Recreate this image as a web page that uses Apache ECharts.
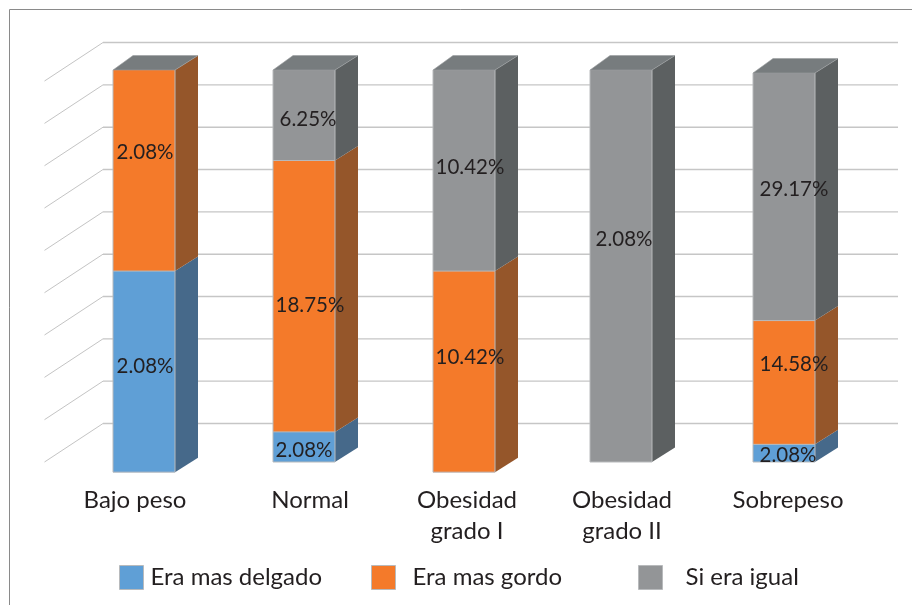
<!DOCTYPE html>
<html>
<head>
<meta charset="utf-8">
<style>html,body{margin:0;padding:0;background:#fff}#c{width:912px;height:605px}</style>
<script src="https://cdn.jsdelivr.net/npm/echarts@6/dist/echarts.min.js"></script>
</head>
<body>
<div id="c"></div>
<script>
// ---- data ----
const categories = ['Bajo peso', 'Normal', 'Obesidad\ngrado I', 'Obesidad\ngrado II', 'Sobrepeso'];
const eraMasDelgado = [2.08, 2.08, 0, 0, 2.08];
const eraMasGordo = [2.08, 18.75, 10.42, 0, 14.58];
const siEraIgual = [0, 6.25, 10.42, 2.08, 29.17];
// column extent on the (hidden) value axis
const columnBottom = [-2.4, 0, -2.4, 0, 0];
const columnTop = [92.6, 92.6, 92.6, 92.6, 91.9];
const gridTicks = [0, 10, 20, 30, 40, 50, 60, 70, 80, 90];
const seriesNames = ['Era mas delgado', 'Era mas gordo', 'Si era igual'];

// ---- layout / style ----
const FRONT = ['#5f9fd6', '#f47a2a', '#939597'];
const SIDE = ['#46698a', '#95562a', '#5c6061'];
const TOP_FACE = '#777c7e';
const EDGE = '#b8babc';
const BAR_W = 62, DEPTH_X = 23, DEPTH_Y = 14.5, TOP_INSET = 3;
const WALL_DX = 58.5, WALL_DY = 38.5, WALL_LEFT = 44.5, WALL_RIGHT = 898;
const FONT = 'Lato, "Open Sans", sans-serif';
// hand placement in the reference, in pixels
const columnShift = [0, 0, 0, -3, 0];
const labelNudge = [
  [[1, -5], [0, 3], null, null, [4, 2]],
  [[1, -18], [6, 9], [6, -14], null, [10, -18]],
  [null, [4, 4], [6, -3], [0, -27], [10, -7]]
];
const axisLabelShift = [-18, 12, 6, -4, 8];

const valueSets = [eraMasDelgado, eraMasGordo, siEraIgual];

function segments(s) {
  return categories.map(function (_, i) {
    const total = valueSets[0][i] + valueSets[1][i] + valueSets[2][i];
    const span = columnTop[i] - columnBottom[i];
    let below = 0;
    for (let k = 0; k < s; k++) below += valueSets[k][i];
    const v = valueSets[s][i];
    let above = 0;
    for (let k = s + 1; k < 3; k++) above += valueSets[k][i];
    return [i, columnBottom[i] + span * below / total, columnBottom[i] + span * (below + v) / total, v, above === 0 ? 1 : 0];
  }).filter(function (d) { return d[3] > 0; });
}

function renderSegment(s) {
  return function (params, api) {
    const i = api.value(0);
    const a = api.coord([i, api.value(1)]);
    const b = api.coord([i, api.value(2)]);
    const cx = a[0] + columnShift[i];
    const x0 = cx - BAR_W / 2, x1 = cx + BAR_W / 2;
    const yb = a[1], yt = b[1];
    const children = [
      { type: 'polygon', shape: { points: [[x1, yb], [x1 + DEPTH_X, yb - DEPTH_Y], [x1 + DEPTH_X, yt - DEPTH_Y], [x1, yt]] },
        style: { fill: SIDE[s] } },
      { type: 'rect', shape: { x: x0, y: yt, width: BAR_W, height: yb - yt },
        style: { fill: FRONT[s] } },
      { type: 'polyline', shape: { points: [[x0, yt], [x0, yb], [x1, yb], [x1, yt]] },
        style: { fill: null, stroke: EDGE, lineWidth: 1 } }
    ];
    if (api.value(4) === 1) {
      children.push({ type: 'polygon', shape: { points: [[x0, yt], [x0 + DEPTH_X - TOP_INSET, yt - DEPTH_Y], [x1 + DEPTH_X, yt - DEPTH_Y], [x1, yt]] },
        style: { fill: TOP_FACE, stroke: '#9a9ea0', lineWidth: 0.6 } });
    }
    const n = labelNudge[s][i] || [0, 0];
    children.push({ type: 'text', z2: 100,
      style: { x: a[0] + n[0], y: (yb + yt) / 2 + n[1], text: api.value(3).toFixed(2) + '%',
        font: '20.5px ' + FONT, fill: '#231f20', align: 'center', verticalAlign: 'middle' } });
    return { type: 'group', children: children };
  };
}

function renderWall(params, api) {
  const y = api.coord([0, api.value(0)])[1];
  return { type: 'group', children: [
    { type: 'line', shape: { x1: WALL_LEFT, y1: y, x2: WALL_LEFT + WALL_DX, y2: y - WALL_DY },
      style: { stroke: '#c4c4c4', lineWidth: 1 } },
    { type: 'line', shape: { x1: WALL_LEFT + WALL_DX, y1: y - WALL_DY, x2: WALL_RIGHT, y2: y - WALL_DY },
      style: { stroke: '#c6c6c6', lineWidth: 1.4 } }
  ] };
}

const rich = {};
axisLabelShift.forEach(function (p, i) {
  rich['c' + i] = { fontFamily: FONT, fontSize: 24, color: '#231f20', lineHeight: 31,
    padding: p < 0 ? [0, -p, 0, 0] : [0, 0, 0, p] };
});

function legendAt(name, left, gap) {
  return { data: [name], left: left, top: 565, padding: 0, itemWidth: 24, itemHeight: 24, icon: 'rect',
    selectedMode: false, itemStyle: { borderColor: EDGE, borderWidth: 1 },
    textStyle: { fontFamily: FONT, fontSize: 24, color: '#231f20', padding: [5, 0, 0, gap] } };
}

const chart = echarts.init(document.getElementById('c'), null, { renderer: 'canvas' });
chart.setOption({
  animation: false,
  backgroundColor: '#fff',
  grid: { left: 64, width: 800, top: 38.7, height: 423.3 },
  xAxis: { type: 'category', data: categories, axisLine: { show: false }, axisTick: { show: false }, splitLine: { show: false },
    axisLabel: { margin: 23, interval: 0,
      formatter: function (v, i) {
        return v.split('\n').map(function (l) { return '{c' + i + '|' + l + '}'; }).join('\n');
      }, rich: rich } },
  yAxis: { type: 'value', min: 0, max: 100, interval: 10, show: false },
  legend: [legendAt(seriesNames[0], 119, 2), legendAt(seriesNames[1], 371, 12), legendAt(seriesNames[2], 638, 18)],
  graphic: [{ type: 'polyline', silent: true, shape: { points: [[9.5, 605], [9.5, 9.5], [912, 9.5]] },
    style: { fill: null, stroke: '#8a8a8a', lineWidth: 1 } }],
  series: [
    { type: 'custom', name: 'walls', silent: true, z: 1, data: gridTicks.map(function (t) { return [t]; }),
      encode: { y: 0 }, renderItem: renderWall }
  ].concat(seriesNames.map(function (name, s) {
    return { type: 'custom', name: name, z: 2, itemStyle: { color: FRONT[s] }, data: segments(s),
      encode: { x: 0, y: [1, 2] }, renderItem: renderSegment(s) };
  }))
});
</script>
</body>
</html>
